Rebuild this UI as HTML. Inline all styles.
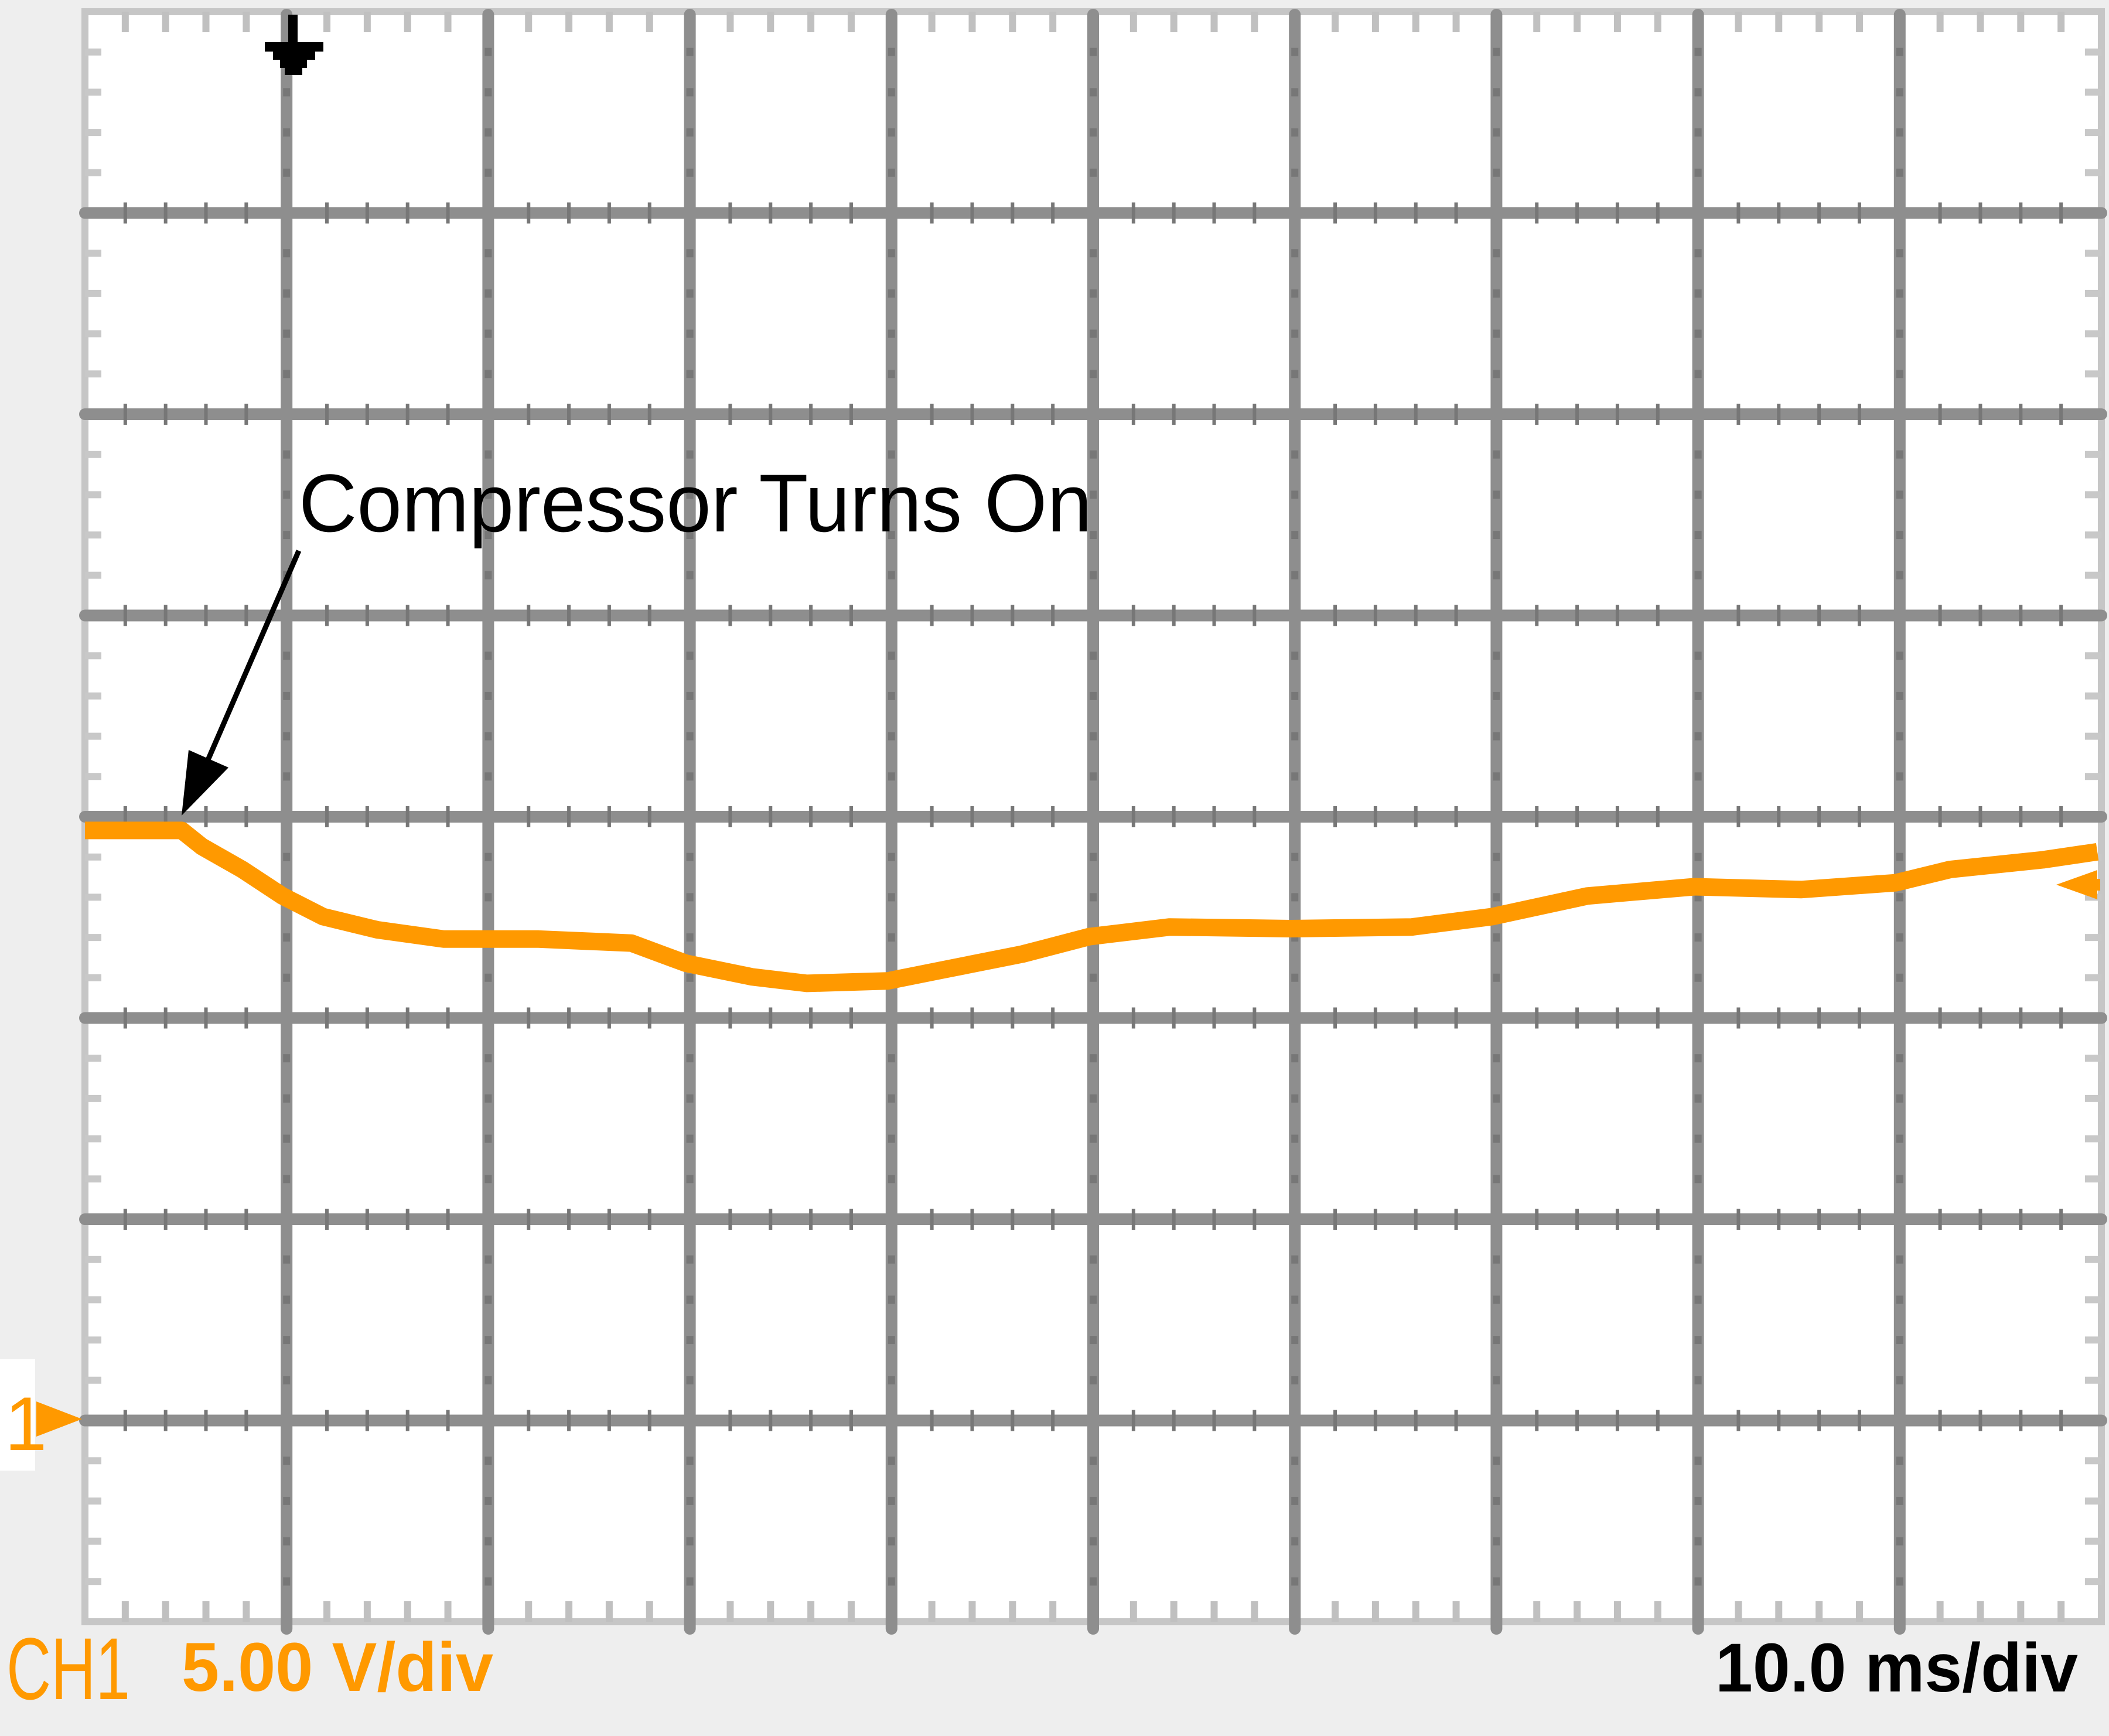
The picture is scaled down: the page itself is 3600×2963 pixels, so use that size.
<!DOCTYPE html>
<html><head><meta charset="utf-8">
<style>
html,body{margin:0;padding:0;background:#eeeeee;}
svg{display:block;}
</style></head>
<body>
<svg id="chart" width="3600" height="2963" viewBox="0 0 3600 2963" xmlns="http://www.w3.org/2000/svg">
<rect x="0" y="0" width="3600" height="2963" fill="#eeeeee"/>
<rect x="145" y="20" width="3442" height="2748" fill="#ffffff"/>
<g id="grid"></g>
<g id="trace"></g>
<g>
<rect x="492" y="25" width="16" height="80" fill="#000"/>
<polygon points="452,72 552,72 552,88 538,88 538,102 524,102 524,116 516,116 516,128 486,128 486,116 478,116 478,102 466,102 466,88 452,88" fill="#000"/>
</g>
<g>
<rect x="0" y="2320" width="60" height="190" fill="#ffffff"/>
<text x="8" y="2475" font-family="Liberation Sans, sans-serif" font-size="130" fill="#ff9900">1</text>
<polygon points="62,2392 140,2422 62,2452" fill="#ff9900"/>
</g>
<g>
<polygon points="3510,1510 3580,1485 3580,1535" fill="#ff9900"/>
<rect x="3540" y="1500" width="45" height="20" fill="#ff9900"/>
</g>
<text x="510" y="907" font-family="Liberation Sans, sans-serif" font-size="140" fill="#000" textLength="1354" lengthAdjust="spacingAndGlyphs">Compressor Turns On</text>
<g>
<line x1="510" y1="940" x2="345" y2="1320" stroke="#000" stroke-width="9"/>
<polygon points="310,1392 322,1280 390,1310" fill="#000"/>
</g>
<text x="11" y="2900" font-family="Liberation Sans, sans-serif" font-size="150" fill="#ff9900" textLength="211" lengthAdjust="spacingAndGlyphs">CH1</text>
<text x="310" y="2886" font-family="Liberation Sans, sans-serif" font-weight="bold" font-size="118" fill="#ff9900" textLength="532" lengthAdjust="spacingAndGlyphs">5.00 V/div</text>
<text x="2928" y="2887" font-family="Liberation Sans, sans-serif" font-weight="bold" font-size="118" fill="#000" textLength="619" lengthAdjust="spacingAndGlyphs">10.0 ms/div</text>
</svg>
<script>
const timesMs = [0, 4.8, 5.8, 7.8, 9.8, 11.8, 14.5, 17.8, 22.5, 27.1, 29.8, 33.1, 35.8, 39.8, 42.5, 46.5, 49.8, 53.8, 59.8, 65.8, 69.8, 74.5, 79.8, 85.1, 89.8, 92.5, 97.1, 99.8];
const voltsV = [14.66, 14.66, 14.26, 13.69, 13.03, 12.52, 12.19, 11.96, 11.96, 11.86, 11.36, 11.02, 10.86, 10.92, 11.19, 11.59, 12.02, 12.26, 12.22, 12.26, 12.52, 13.03, 13.26, 13.19, 13.36, 13.69, 13.93, 14.13];
const xDivs = 10, yDivs = 8, msPerDiv = 10, vPerDiv = 5, groundDivFromBottom = 1;

const NS = 'http://www.w3.org/2000/svg';
const L = 145, R = 3587, T = 20, B = 2768;
const dx = (R - L) / xDivs, dy = (B - T) / yDivs;
function xScale(ms){ return L + ms / msPerDiv * dx; }
function yScale(v){ return B - (groundDivFromBottom + v / vPerDiv) * dy; }

const grid = document.getElementById('grid');
function ln(x1,y1,x2,y2,c,w,cap){
  const l = document.createElementNS(NS,'line');
  l.setAttribute('x1',x1);l.setAttribute('y1',y1);l.setAttribute('x2',x2);l.setAttribute('y2',y2);
  l.setAttribute('stroke',c);l.setAttribute('stroke-width',w);
  if(cap) l.setAttribute('stroke-linecap','round');
  grid.appendChild(l);
  return l;
}
const bd = document.createElementNS(NS,'rect');
bd.setAttribute('x',L);bd.setAttribute('y',T);bd.setAttribute('width',R-L);bd.setAttribute('height',B-T);
bd.setAttribute('fill','none');bd.setAttribute('stroke','#c6c6c6');bd.setAttribute('stroke-width','12');


grid.appendChild(bd);
for(let i=1;i<xDivs*5;i++){
  if(i%5===0) continue;
  const x = L + i*dx/5;
  const a = ln(x,T,x,T+35,'#c0c0c0',12);
  
  
  const b = ln(x,B-35,x,B,'#c0c0c0',12);
  
  
}
for(let i=1;i<yDivs*5;i++){
  if(i%5===0) continue;
  const y = T + i*dy/5;
  const a = ln(L,y,L+28,y,'#c8c8c8',12);
  
  
  const b = ln(R-28,y,R,y,'#c8c8c8',12);
  
  
}
for(let i=1;i<xDivs;i++){
  const x = L + i*dx;
  const l = ln(x,T+5,x,B+12,'#8e8e8e',20,true);
  
  
}
for(let i=1;i<yDivs;i++){
  const y = T + i*dy;
  const l = ln(L,y,R,y,'#8e8e8e',20,true);
  
  
}
for(let j=1;j<yDivs;j++){
  const y = T + j*dy;
  for(let i=1;i<xDivs*5;i++){
    if(i%5===0) continue;
    const x = L + i*dx/5;
    const t = ln(x,y-18,x,y+18,'#777777',6);
    
    
  }
}
for(let j=1;j<xDivs;j++){
  const x = L + j*dx;
  for(let i=1;i<yDivs*5;i++){
    if(i%5===0) continue;
    const y = T + i*dy/5;
    const t = ln(x-6,y,x+6,y,'#777777',14);
    
    
  }
}
const tr = document.getElementById('trace');
const pts = timesMs.map((t,i)=> xScale(t).toFixed(1)+','+yScale(voltsV[i]).toFixed(1)).join(' ');
const pl = document.createElementNS(NS,'polyline');
pl.setAttribute('points',pts);
pl.setAttribute('fill','none');
pl.setAttribute('stroke','#ff9900');
pl.setAttribute('stroke-width','30');
pl.setAttribute('stroke-linejoin','round');


tr.appendChild(pl);
</script>
</body></html>
